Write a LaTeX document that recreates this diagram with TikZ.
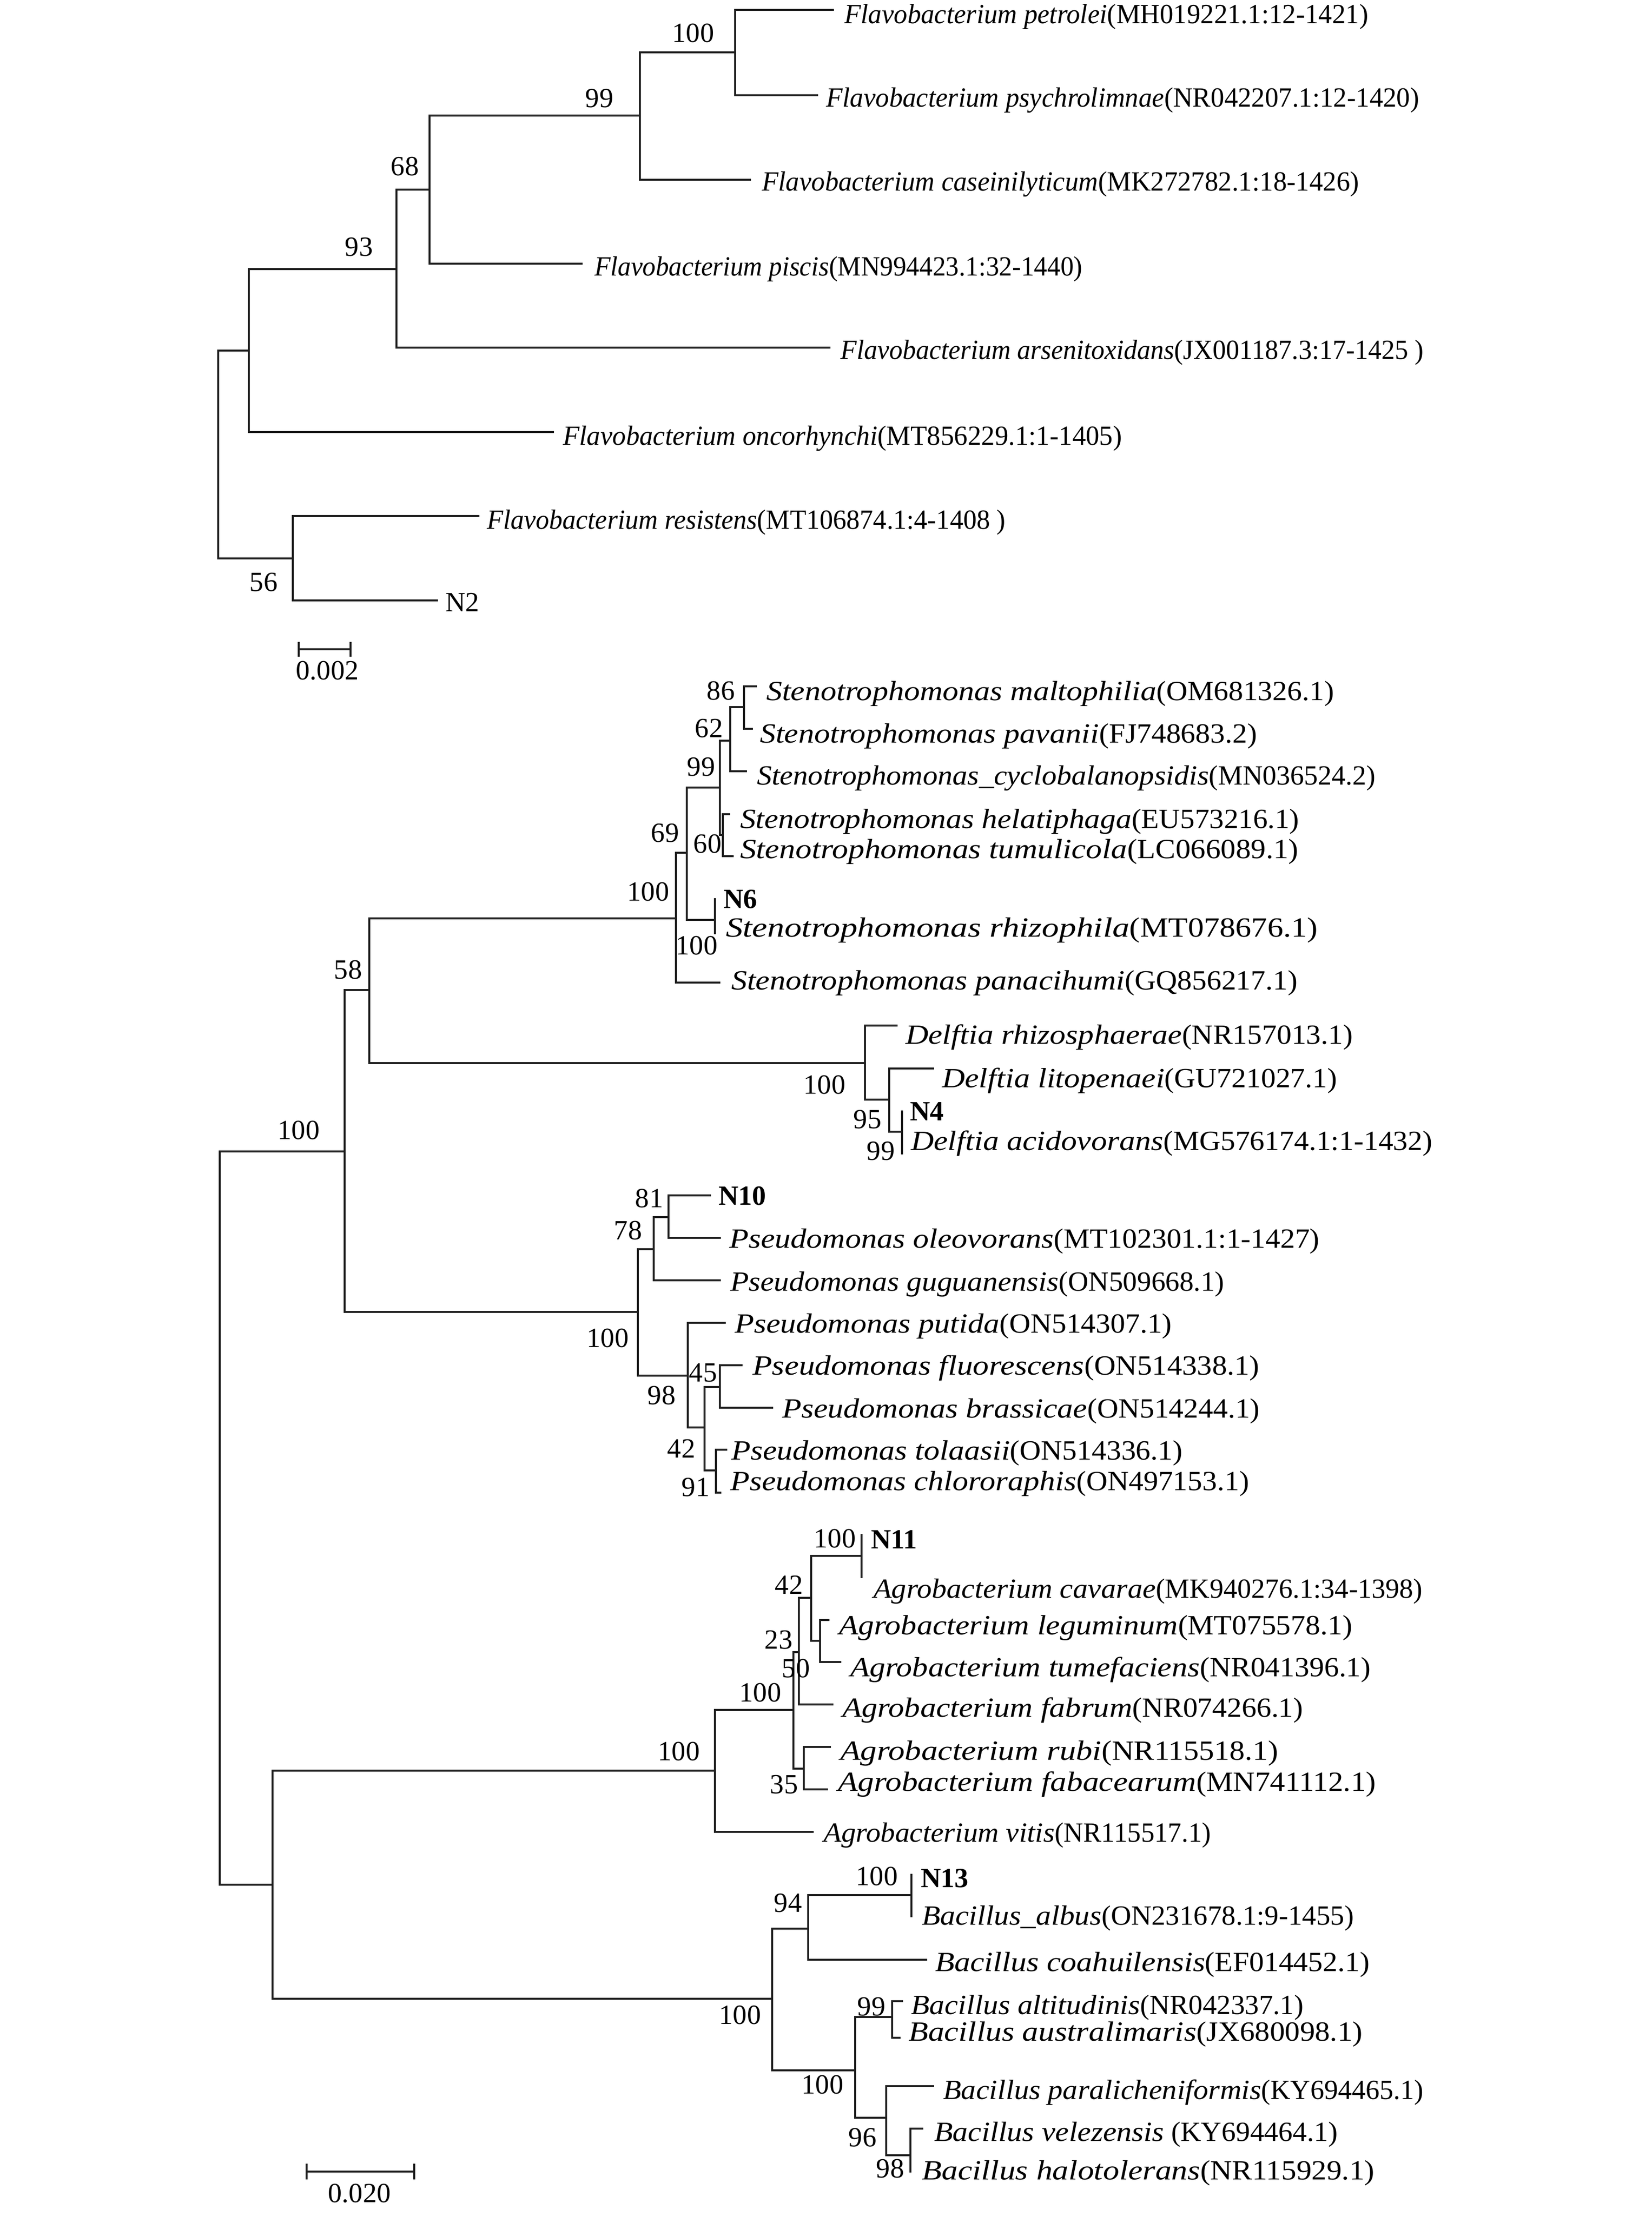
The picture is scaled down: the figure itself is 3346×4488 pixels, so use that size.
\documentclass[tikz,border=0pt]{standalone}
\usepackage{fontspec}
\usepackage{graphicx}
\setmainfont{Liberation Serif}
\newfontfamily\widefont[FakeStretch=1.14]{Liberation Serif}
\newfontfamily\accfont[FakeStretch=1.06]{Liberation Serif}
\newcommand{\flavo}[3][0.975]{\scalebox{#1}[1]{\textit{#2}#3}}
\newcommand{\taxon}[3][1]{\scalebox{#1}[1]{{\widefont\itshape #2}{\accfont #3}}}

\begin{document}
\begin{tikzpicture}[
            x = 0.01cm, y = -0.01cm, % one unit = one pixel of the figure
            line width = 1.15pt, % branch thickness
            font = \fontsize{16pt}{19pt}\selectfont,
            branch/.style = {draw=black!88},
            boot/.style = {inner sep=0pt, anchor=center},
            strain/.style = {inner sep=0pt, anchor=base west}
        ]
\useasboundingbox (0,0) rectangle (3346,4488);

% upper tree
\coordinate (tR) at (442,920);
\coordinate (tA) at (504,710);
\coordinate (t93) at (803,545);
\coordinate (t68) at (870,384);
\coordinate (t99) at (1296,234);
\coordinate (t100) at (1489,106);
\coordinate (t56) at (593,1131);

\coordinate (petrolei) at (1689,20);
\coordinate (psychrolimnae) at (1657,193);
\coordinate (caseinilyticum) at (1521,364);
\coordinate (piscis) at (1180,534);
\coordinate (arsenitoxidans) at (1682,704);
\coordinate (oncorhynchi) at (1122,875);
\coordinate (resistens) at (971,1045);
\coordinate (N2) at (887,1216);

\draw[branch] (tR) |- (tA);
\draw[branch] (tR) |- (t56);
\draw[branch] (tA) |- (t93);
\draw[branch] (tA) |- (oncorhynchi);
\draw[branch] (t93) |- (t68);
\draw[branch] (t93) |- (arsenitoxidans);
\draw[branch] (t68) |- (t99);
\draw[branch] (t68) |- (piscis);
\draw[branch] (t99) |- (t100);
\draw[branch] (t99) |- (caseinilyticum);
\draw[branch] (t100) |- (petrolei);
\draw[branch] (t100) |- (psychrolimnae);
\draw[branch] (t56) |- (resistens);
\draw[branch] (t56) |- (N2);

\node[strain] (Lpetrolei) at (1708,48) {\flavo{Flavobacterium petrolei}{(MH019221.1:12-1421)}};
\node[strain] (Lpsychrolimnae) at (1671,217) {\flavo{Flavobacterium psychrolimnae}{(NR042207.1:12-1420)}};
\node[strain] (Lcaseinilyticum) at (1541,387) {\flavo{Flavobacterium caseinilyticum}{(MK272782.1:18-1426)}};
\node[strain] (Lpiscis) at (1202,558) {\flavo[0.947]{Flavobacterium piscis}{(MN994423.1:32-1440)}};
\node[strain] (Larsenitoxidans) at (1700,727) {\flavo[0.96]{Flavobacterium arsenitoxidans}{(JX001187.3:17-1425 )}};
\node[strain] (Loncorhynchi) at (1138,901) {\flavo{Flavobacterium oncorhynchi}{(MT856229.1:1-1405)}};
\node[strain] (Lresistens) at (984,1071) {\flavo[0.964]{Flavobacterium resistens}{(MT106874.1:4-1408 )}};
\node[strain] (LN2) at (900,1238) {N2};

\node[boot] (s-t100) at (1404,67) {100};
\node[boot] (s-t99) at (1214,199) {99};
\node[boot] (s-t68) at (820,337) {68};
\node[boot] (s-t93) at (727,500) {93};
\node[boot] (s-t56) at (534,1179) {56};

% scale bar of the upper tree
\coordinate (sbA) at (605,1315);
\coordinate (sbB) at (710,1315);
\draw[branch] (sbA) -- (sbB);
\draw[branch] ([yshift=0.15cm]sbA) -- ([yshift=-0.15cm]sbA);
\draw[branch] ([yshift=0.15cm]sbB) -- ([yshift=-0.15cm]sbB);
\node[boot] (sbLabelA) at (663,1358) {0.002};

% lower tree
\coordinate (bR) at (445,3070);
\coordinate (bU) at (698,2332);
\coordinate (bL) at (552,3817);
\coordinate (b58) at (748,2005);
\coordinate (bSt) at (1369,1860);
\coordinate (b69) at (1391,1727);
\coordinate (b99) at (1458,1595);
\coordinate (b62) at (1479,1500);
\coordinate (b86) at (1507,1432);
\coordinate (b60) at (1464,1691);
\coordinate (bN6) at (1448,1863);
\coordinate (bDe) at (1752,2153);
\coordinate (b95) at (1801,2227);
\coordinate (b99D) at (1827,2292);
\coordinate (bPs) at (1292,2657);
\coordinate (b78) at (1324,2530);
\coordinate (b81) at (1354,2465);
\coordinate (b98) at (1393,2786);
\coordinate (b45) at (1458,2809);
\coordinate (b42) at (1427,2891);
\coordinate (b91) at (1450,2978);
\coordinate (bAo) at (1448,3586);
\coordinate (bAi) at (1607,3463);
\coordinate (b23) at (1618,3346);
\coordinate (b42A) at (1643,3236);
\coordinate (bN11) at (1745,3151);
\coordinate (b50) at (1661,3323);
\coordinate (b35) at (1628,3582);
\coordinate (bBa) at (1564,4048);
\coordinate (b94) at (1637,3906);
\coordinate (bN13) at (1846,3838);
\coordinate (bBl) at (1732,4193);
\coordinate (b99B) at (1807,4085);
\coordinate (b96) at (1795,4289);
\coordinate (b98B) at (1844,4365);

\coordinate (maltophilia) at (1533,1390);
\coordinate (pavanii) at (1525,1476);
\coordinate (cyclobalanopsidis) at (1513,1562);
\coordinate (helatiphaga) at (1479,1649);
\coordinate (tumulicola) at (1486,1734);
\coordinate (N6) at (1448,1819);
\coordinate (rhizophila) at (1448,1892);
\coordinate (panacihumi) at (1459,1990);
\coordinate (rhizosphaerae) at (1818,2077);
\coordinate (litopenaei) at (1892,2164);
\coordinate (N4) at (1827,2249);
\coordinate (acidovorans) at (1827,2338);
\coordinate (N10) at (1440,2421);
\coordinate (oleovorans) at (1460,2507);
\coordinate (guguanensis) at (1460,2593);
\coordinate (putida) at (1470,2679);
\coordinate (fluorescens) at (1504,2765);
\coordinate (brassicae) at (1566,2851);
\coordinate (tolaasii) at (1473,2936);
\coordinate (chlororaphis) at (1461,3023);
\coordinate (N11) at (1745,3107);
\coordinate (cavarae) at (1745,3196);
\coordinate (leguminum) at (1680,3281);
\coordinate (tumefaciens) at (1704,3366);
\coordinate (fabrum) at (1688,3452);
\coordinate (rubi) at (1683,3538);
\coordinate (fabacearum) at (1677,3624);
\coordinate (vitis) at (1648,3710);
\coordinate (N13) at (1846,3795);
\coordinate (albus) at (1846,3883);
\coordinate (coahuilensis) at (1878,3969);
\coordinate (altitudinis) at (1829,4053);
\coordinate (australimaris) at (1824,4127);
\coordinate (paralicheniformis) at (1892,4225);
\coordinate (velezensis) at (1870,4311);
\coordinate (halotolerans) at (1846,4398);

\draw[branch] (bR) |- (bU);
\draw[branch] (bR) |- (bL);
\draw[branch] (bU) |- (b58);
\draw[branch] (bU) |- (bPs);
\draw[branch] (b58) |- (bSt);
\draw[branch] (b58) |- (bDe);
\draw[branch] (bSt) |- (b69);
\draw[branch] (bSt) |- (panacihumi);
\draw[branch] (b69) |- (b99);
\draw[branch] (b69) |- (bN6);
\draw[branch] (b99) |- (b62);
\draw[branch] (b99) |- (b60);
\draw[branch] (b62) |- (b86);
\draw[branch] (b62) |- (cyclobalanopsidis);
\draw[branch] (b86) |- (maltophilia);
\draw[branch] (b86) |- (pavanii);
\draw[branch] (b60) |- (helatiphaga);
\draw[branch] (b60) |- (tumulicola);
\draw[branch] (bN6) |- (N6);
\draw[branch] (bN6) |- (rhizophila);
\draw[branch] (bDe) |- (rhizosphaerae);
\draw[branch] (bDe) |- (b95);
\draw[branch] (b95) |- (litopenaei);
\draw[branch] (b95) |- (b99D);
\draw[branch] (b99D) |- (N4);
\draw[branch] (b99D) |- (acidovorans);
\draw[branch] (bPs) |- (b78);
\draw[branch] (bPs) |- (b98);
\draw[branch] (b78) |- (b81);
\draw[branch] (b78) |- (guguanensis);
\draw[branch] (b81) |- (N10);
\draw[branch] (b81) |- (oleovorans);
\draw[branch] (b98) |- (putida);
\draw[branch] (b98) |- (b42);
\draw[branch] (b42) |- (b45);
\draw[branch] (b42) |- (b91);
\draw[branch] (b45) |- (fluorescens);
\draw[branch] (b45) |- (brassicae);
\draw[branch] (b91) |- (tolaasii);
\draw[branch] (b91) |- (chlororaphis);
\draw[branch] (bL) |- (bAo);
\draw[branch] (bL) |- (bBa);
\draw[branch] (bAo) |- (bAi);
\draw[branch] (bAo) |- (vitis);
\draw[branch] (bAi) |- (b23);
\draw[branch] (bAi) |- (b35);
\draw[branch] (b23) |- (b42A);
\draw[branch] (b23) |- (fabrum);
\draw[branch] (b42A) |- (bN11);
\draw[branch] (b42A) |- (b50);
\draw[branch] (bN11) |- (N11);
\draw[branch] (bN11) |- (cavarae);
\draw[branch] (b50) |- (leguminum);
\draw[branch] (b50) |- (tumefaciens);
\draw[branch] (b35) |- (rubi);
\draw[branch] (b35) |- (fabacearum);
\draw[branch] (bBa) |- (b94);
\draw[branch] (bBa) |- (bBl);
\draw[branch] (b94) |- (bN13);
\draw[branch] (b94) |- (coahuilensis);
\draw[branch] (bN13) |- (N13);
\draw[branch] (bN13) |- (albus);
\draw[branch] (bBl) |- (b99B);
\draw[branch] (bBl) |- (b96);
\draw[branch] (b99B) |- (altitudinis);
\draw[branch] (b99B) |- (australimaris);
\draw[branch] (b96) |- (paralicheniformis);
\draw[branch] (b96) |- (b98B);
\draw[branch] (b98B) |- (velezensis);
\draw[branch] (b98B) |- (halotolerans);

\node[strain] (Lmaltophilia) at (1550,1418) {\taxon{Stenotrophomonas maltophilia}{(OM681326.1)}};
\node[strain] (Lpavanii) at (1537,1504) {\taxon{Stenotrophomonas pavanii}{(FJ748683.2)}};
\node[strain] (Lcyclobalanopsidis) at (1531,1589) {\taxon[0.94]{Stenotrophomonas\_cyclobalanopsidis}{(MN036524.2)}};
\node[strain] (Lhelatiphaga) at (1497,1677) {\taxon[0.99]{Stenotrophomonas helatiphaga}{(EU573216.1)}};
\node[strain] (Ltumulicola) at (1497,1738) {\taxon[1.02]{Stenotrophomonas tumulicola}{(LC066089.1)}};
\node[strain] (LN6) at (1463,1839) {\textbf{N6}};
\node[strain] (Lrhizophila) at (1468,1897) {\taxon[1.08]{Stenotrophomonas rhizophila}{(MT078676.1)}};
\node[strain] (Lpanacihumi) at (1479,2004) {\taxon{Stenotrophomonas panacihumi}{(GQ856217.1)}};
\node[strain] (Lrhizosphaerae) at (1832,2114) {\taxon{Delftia rhizosphaerae}{(NR157013.1)}};
\node[strain] (Llitopenaei) at (1906,2202) {\taxon{Delftia litopenaei}{(GU721027.1)}};
\node[strain] (LN4) at (1841,2269) {\textbf{N4}};
\node[strain] (Lacidovorans) at (1843,2329) {\taxon{Delftia acidovorans}{(MG576174.1:1-1432)}};
\node[strain] (LN10) at (1453,2440) {\textbf{N10}};
\node[strain] (Loleovorans) at (1475,2527) {\taxon{Pseudomonas oleovorans}{(MT102301.1:1-1427)}};
\node[strain] (Lguguanensis) at (1477,2614) {\taxon[0.96]{Pseudomonas guguanensis}{(ON509668.1)}};
\node[strain] (Lputida) at (1486,2699) {\taxon{Pseudomonas putida}{(ON514307.1)}};
\node[strain] (Lfluorescens) at (1522,2784) {\taxon[1.015]{Pseudomonas fluorescens}{(ON514338.1)}};
\node[strain] (Lbrassicae) at (1582,2871) {\taxon{Pseudomonas brassicae}{(ON514244.1)}};
\node[strain] (Ltolaasii) at (1479,2956) {\taxon{Pseudomonas tolaasii}{(ON514336.1)}};
\node[strain] (Lchlororaphis) at (1477,3018) {\taxon{Pseudomonas chlororaphis}{(ON497153.1)}};
\node[strain] (LN11) at (1762,3136) {\textbf{N11}};
\node[strain] (Lcavarae) at (1767,3236) {\taxon[0.94]{Agrobacterium cavarae}{(MK940276.1:34-1398)}};
\node[strain] (Lleguminum) at (1697,3310) {\taxon{Agrobacterium leguminum}{(MT075578.1)}};
\node[strain] (Ltumefaciens) at (1720,3395) {\taxon{Agrobacterium tumefaciens}{(NR041396.1)}};
\node[strain] (Lfabrum) at (1704,3477) {\taxon{Agrobacterium fabrum}{(NR074266.1)}};
\node[strain] (Lrubi) at (1700,3564) {\taxon[1.04]{Agrobacterium rubi}{(NR115518.1)}};
\node[strain] (Lfabacearum) at (1695,3627) {\taxon[1.025]{Agrobacterium fabacearum}{(MN741112.1)}};
\node[strain] (Lvitis) at (1666,3730) {\taxon[0.92]{Agrobacterium vitis}{(NR115517.1)}};
\node[strain] (LN13) at (1863,3822) {\textbf{N13}};
\node[strain] (Lalbus) at (1865,3898) {\taxon[0.955]{Bacillus\_albus}{(ON231678.1:9-1455)}};
\node[strain] (Lcoahuilensis) at (1892,3992) {\taxon{Bacillus coahuilensis}{(EF014452.1)}};
\node[strain] (Laltitudinis) at (1843,4079) {\taxon[0.955]{Bacillus altitudinis}{(NR042337.1)}};
\node[strain] (Laustralimaris) at (1838,4133) {\taxon[1.02]{Bacillus australimaris}{(JX680098.1)}};
\node[strain] (Lparalicheniformis) at (1908,4251) {\taxon[0.94]{Bacillus paralicheniformis}{(KY694465.1)}};
\node[strain] (Lvelezensis) at (1890,4336) {\taxon[0.965]{Bacillus velezensis}{ (KY694464.1)}};
\node[strain] (Lhalotolerans) at (1865,4414) {\taxon[1.025]{Bacillus halotolerans}{(NR115929.1)}};

\node[boot] (s-bU) at (605,2289) {100};
\node[boot] (s-b58) at (705,1964) {58};
\node[boot] (s-bSt) at (1313,1806) {100};
\node[boot] (s-b69) at (1347,1687) {69};
\node[boot] (s-b99) at (1420,1553) {99};
\node[boot] (s-b62) at (1436,1475) {62};
\node[boot] (s-b86) at (1460,1399) {86};
\node[boot] (s-b60) at (1433,1709) {60};
\node[boot] (s-bN6) at (1411,1915) {100};
\node[boot] (s-bDe) at (1670,2197) {100};
\node[boot] (s-b95) at (1757,2267) {95};
\node[boot] (s-b99D) at (1784,2331) {99};
\node[boot] (s-bPs) at (1231,2710) {100};
\node[boot] (s-b78) at (1272,2492) {78};
\node[boot] (s-b81) at (1315,2427) {81};
\node[boot] (s-b98) at (1340,2826) {98};
\node[boot] (s-b45) at (1424,2780) {45};
\node[boot] (s-b42) at (1380,2934) {42};
\node[boot] (s-b91) at (1409,3012) {91};
\node[boot] (s-bAo) at (1375,3547) {100};
\node[boot] (s-bAi) at (1540,3428) {100};
\node[boot] (s-b23) at (1577,3321) {23};
\node[boot] (s-b42A) at (1598,3210) {42};
\node[boot] (s-bN11) at (1691,3116) {100};
\node[boot] (s-b50) at (1612,3379) {50};
\node[boot] (s-b35) at (1588,3614) {35};
\node[boot] (s-bBa) at (1499,4081) {100};
\node[boot] (s-b94) at (1596,3854) {94};
\node[boot] (s-bN13) at (1776,3800) {100};
\node[boot] (s-bBl) at (1666,4222) {100};
\node[boot] (s-b99B) at (1765,4064) {99};
\node[boot] (s-b96) at (1747,4329) {96};
\node[boot] (s-b98B) at (1803,4392) {98};

% scale bar of the lower tree
\coordinate (sbC) at (621,4398);
\coordinate (sbD) at (839,4398);
\draw[branch] (sbC) -- (sbD);
\draw[branch] ([yshift=0.16cm]sbC) -- ([yshift=-0.16cm]sbC);
\draw[branch] ([yshift=0.16cm]sbD) -- ([yshift=-0.16cm]sbD);
\node[boot] (sbLabelB) at (728,4442) {0.020};

\end{tikzpicture}
\end{document}
